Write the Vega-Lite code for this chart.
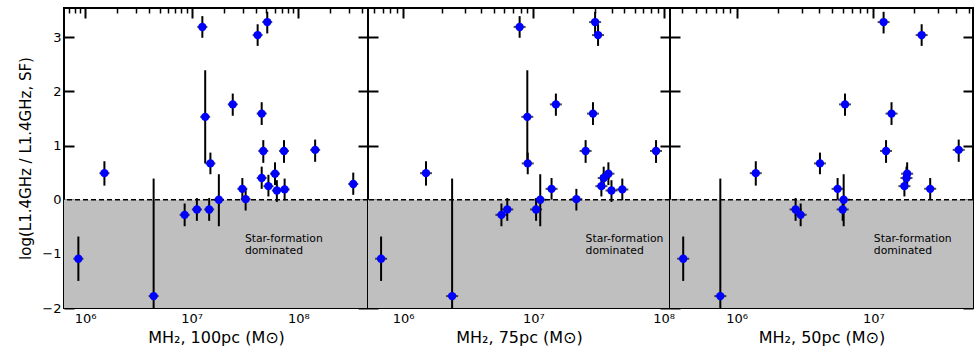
{
  "$schema": "https://vega.github.io/schema/vega-lite/v6.json",
  "padding": {"left": 17, "top": 6, "right": 0, "bottom": 0},
  "background": "white",
  "config": {
    "font": "DejaVu Sans",
    "view": {"stroke": "black", "strokeWidth": 2},
    "axis": {"grid": false, "domain": false, "labelFont": "DejaVu Sans", "titleFont": "DejaVu Sans", "labelColor": "black", "titleColor": "black", "tickColor": "black", "labelFontSize": 13, "titleFontWeight": "normal", "zindex": 1, "labelFlush": false}
  },
  "datasets": {
    "p1": [
      {"m": 866000, "r": -1.09, "lo": -1.50, "hi": -0.68},
      {"m": 1520000, "r": 0.49, "lo": 0.26, "hi": 0.71},
      {"m": 4400000, "r": -1.78, "lo": -4.0, "hi": 0.39},
      {"m": 8600000, "r": -0.28, "lo": -0.49, "hi": -0.07},
      {"m": 11200000, "r": -0.18, "lo": -0.39, "hi": 0.03},
      {"m": 14600000, "r": -0.18, "lo": -0.39, "hi": 0.03},
      {"m": 12600000, "r": 3.19, "lo": 2.99, "hi": 3.39},
      {"m": 13400000, "r": 1.53, "lo": 0.67, "hi": 2.39},
      {"m": 15000000, "r": 0.67, "lo": 0.47, "hi": 0.87},
      {"m": 18000000, "r": 0.0, "lo": -0.49, "hi": 0.47},
      {"m": 24300000, "r": 1.76, "lo": 1.55, "hi": 1.96},
      {"m": 41600000, "r": 3.04, "lo": 2.84, "hi": 3.24},
      {"m": 51200000, "r": 3.28, "lo": 3.07, "hi": 3.47},
      {"m": 45400000, "r": 1.59, "lo": 1.38, "hi": 1.80},
      {"m": 47000000, "r": 0.90, "lo": 0.68, "hi": 1.10},
      {"m": 73500000, "r": 0.90, "lo": 0.68, "hi": 1.10},
      {"m": 144000000, "r": 0.92, "lo": 0.70, "hi": 1.11},
      {"m": 45400000, "r": 0.40, "lo": 0.20, "hi": 0.61},
      {"m": 60500000, "r": 0.48, "lo": 0.27, "hi": 0.69},
      {"m": 52500000, "r": 0.25, "lo": 0.06, "hi": 0.46},
      {"m": 63000000, "r": 0.17, "lo": -0.04, "hi": 0.36},
      {"m": 74500000, "r": 0.19, "lo": -0.01, "hi": 0.39},
      {"m": 29900000, "r": 0.20, "lo": 0.0, "hi": 0.40},
      {"m": 32100000, "r": 0.01, "lo": -0.20, "hi": 0.20},
      {"m": 328000000, "r": 0.29, "lo": 0.09, "hi": 0.50}
    ],
    "p2": [
      {"m": 678000, "r": -1.09, "lo": -1.50, "hi": -0.68},
      {"m": 1500000, "r": 0.49, "lo": 0.26, "hi": 0.71},
      {"m": 2380000, "r": -1.78, "lo": -4.0, "hi": 0.39},
      {"m": 5690000, "r": -0.28, "lo": -0.49, "hi": -0.07},
      {"m": 6310000, "r": -0.18, "lo": -0.39, "hi": 0.03},
      {"m": 7850000, "r": 3.19, "lo": 2.99, "hi": 3.39},
      {"m": 8990000, "r": 1.53, "lo": 0.67, "hi": 2.39},
      {"m": 9060000, "r": 0.67, "lo": 0.47, "hi": 0.87},
      {"m": 10500000, "r": -0.18, "lo": -0.39, "hi": 0.03},
      {"m": 11300000, "r": 0.0, "lo": -0.49, "hi": 0.47},
      {"m": 13800000, "r": 0.20, "lo": 0.0, "hi": 0.40},
      {"m": 14900000, "r": 1.76, "lo": 1.55, "hi": 1.96},
      {"m": 21400000, "r": 0.01, "lo": -0.20, "hi": 0.20},
      {"m": 25200000, "r": 0.90, "lo": 0.68, "hi": 1.10},
      {"m": 28700000, "r": 1.59, "lo": 1.38, "hi": 1.80},
      {"m": 29800000, "r": 3.28, "lo": 3.07, "hi": 3.47},
      {"m": 31400000, "r": 3.04, "lo": 2.84, "hi": 3.24},
      {"m": 33300000, "r": 0.25, "lo": 0.06, "hi": 0.46},
      {"m": 34700000, "r": 0.40, "lo": 0.20, "hi": 0.61},
      {"m": 37700000, "r": 0.48, "lo": 0.27, "hi": 0.69},
      {"m": 39800000, "r": 0.17, "lo": -0.04, "hi": 0.36},
      {"m": 48200000, "r": 0.19, "lo": -0.01, "hi": 0.39},
      {"m": 87500000, "r": 0.90, "lo": 0.68, "hi": 1.10}
    ],
    "p3": [
      {"m": 406000, "r": -1.09, "lo": -1.50, "hi": -0.68},
      {"m": 759000, "r": -1.78, "lo": -4.0, "hi": 0.39},
      {"m": 1380000, "r": 0.49, "lo": 0.26, "hi": 0.71},
      {"m": 2700000, "r": -0.18, "lo": -0.39, "hi": 0.03},
      {"m": 2940000, "r": -0.28, "lo": -0.49, "hi": -0.07},
      {"m": 4070000, "r": 0.67, "lo": 0.47, "hi": 0.87},
      {"m": 5480000, "r": 0.20, "lo": 0.0, "hi": 0.40},
      {"m": 6070000, "r": 0.0, "lo": -0.49, "hi": 0.47},
      {"m": 5970000, "r": -0.18, "lo": -0.39, "hi": 0.03},
      {"m": 6210000, "r": 1.76, "lo": 1.55, "hi": 1.96},
      {"m": 11900000, "r": 3.28, "lo": 3.07, "hi": 3.47},
      {"m": 12400000, "r": 0.90, "lo": 0.68, "hi": 1.10},
      {"m": 13600000, "r": 1.59, "lo": 1.38, "hi": 1.80},
      {"m": 16900000, "r": 0.25, "lo": 0.06, "hi": 0.46},
      {"m": 17500000, "r": 0.40, "lo": 0.20, "hi": 0.61},
      {"m": 17700000, "r": 0.48, "lo": 0.27, "hi": 0.69},
      {"m": 22600000, "r": 3.04, "lo": 2.84, "hi": 3.24},
      {"m": 26100000, "r": 0.20, "lo": 0.0, "hi": 0.40},
      {"m": 42200000, "r": 0.92, "lo": 0.70, "hi": 1.11}
    ]
  },
  "hconcat": [
    {
      "width": 304, "height": 300,
      "resolve": {"axis": {"x": "independent", "y": "independent"}},
      "layer": [
        {"data": {"values": [{}]}, "mark": {"type": "rect", "color": "#bfbfbf"},
         "encoding": {"y": {"datum": -2, "type": "quantitative", "axis": null}, "y2": {"datum": 0}}},
        {"data": {"values": [{}]}, "mark": {"type": "rule", "color": "black", "strokeWidth": 1.5, "strokeDash": [5, 3]},
         "encoding": {"y": {"datum": 0, "type": "quantitative", "axis": null}}},
        {"data": {"name": "p1"}, "mark": {"type": "rule", "color": "black", "strokeWidth": 2, "clip": true},
         "encoding": {
           "x": {"field": "m", "type": "quantitative", "axis": {"orient": "top", "labels": false, "title": null, "values": [1000000, 10000000, 100000000], "tickSize": -10, "tickWidth": 2}},
           "y": {"field": "lo", "type": "quantitative", "axis": {"orient": "right", "labels": false, "title": null, "values": [-2, -1, 0, 1, 2, 3], "tickSize": -10, "tickWidth": 2}},
           "y2": {"field": "hi"}}},
        {"data": {"name": "p1"}, "mark": {"type": "tick", "orient": "horizontal", "color": "black", "size": 10, "thickness": 2},
         "encoding": {"x": {"field": "m", "type": "quantitative", "axis": {"orient": "top", "labels": false, "title": null, "values": [700000, 800000, 900000, 2000000, 3000000, 4000000, 5000000, 6000000, 7000000, 8000000, 9000000, 20000000, 30000000, 40000000, 50000000, 60000000, 70000000, 80000000, 90000000, 200000000, 300000000, 400000000], "tickSize": -5, "tickWidth": 1.5}},
           "y": {"field": "r", "type": "quantitative", "axis": null}}},
        {"data": {"name": "p1"}, "mark": {"type": "point", "shape": "circle", "filled": true, "color": "#0000ff", "opacity": 1, "size": 70},
         "encoding": {
           "x": {"field": "m", "type": "quantitative", "scale": {"type": "log", "domain": [635000, 451000000], "nice": false},
             "axis": {"orient": "bottom", "title": "MH₂, 100pc (M⊙)", "titleFontSize": 16, "labelPadding": 14, "titlePadding": 4, "values": [1000000, 10000000, 100000000],
               "labelExpr": "datum.value == 1000000 ? '10⁶' : datum.value == 10000000 ? '10⁷' : '10⁸'", "tickSize": -10, "tickWidth": 2}},
           "y": {"field": "r", "type": "quantitative", "scale": {"domain": [-2, 3.54], "nice": false, "zero": false},
             "axis": {"orient": "left", "title": "log(L1.4GHz / L1.4GHz, SF)", "titleFontSize": 15, "values": [-2, -1, 0, 1, 2, 3], "tickSize": -10, "tickWidth": 2, "labelPadding": 13, "titlePadding": 8}}}},
        {"data": {"values": [{}]}, "mark": {"type": "text", "text": ["Star-formation", "dominated"], "align": "left", "baseline": "top", "fontSize": 10.8, "lineHeight": 12, "color": "black"},
         "encoding": {"x": {"datum": 31600000, "type": "quantitative", "axis": {"orient": "bottom", "labels": false, "title": null, "values": [700000, 800000, 900000, 2000000, 3000000, 4000000, 5000000, 6000000, 7000000, 8000000, 9000000, 20000000, 30000000, 40000000, 50000000, 60000000, 70000000, 80000000, 90000000, 200000000, 300000000, 400000000], "tickSize": -5, "tickWidth": 1.5}},
           "y": {"datum": -0.62, "type": "quantitative", "axis": null}}}
      ]
    },
    {
      "width": 302, "height": 300,
      "resolve": {"axis": {"x": "independent", "y": "independent"}},
      "layer": [
        {"data": {"values": [{}]}, "mark": {"type": "rect", "color": "#bfbfbf"},
         "encoding": {"y": {"datum": -2, "type": "quantitative", "axis": null}, "y2": {"datum": 0}}},
        {"data": {"values": [{}]}, "mark": {"type": "rule", "color": "black", "strokeWidth": 1.5, "strokeDash": [5, 3]},
         "encoding": {"y": {"datum": 0, "type": "quantitative", "axis": null}}},
        {"data": {"name": "p2"}, "mark": {"type": "rule", "color": "black", "strokeWidth": 2, "clip": true},
         "encoding": {
           "x": {"field": "m", "type": "quantitative", "axis": {"orient": "top", "labels": false, "title": null, "values": [1000000, 10000000, 100000000], "tickSize": -10, "tickWidth": 2}},
           "y": {"field": "lo", "type": "quantitative", "axis": {"orient": "right", "labels": false, "title": null, "values": [-2, -1, 0, 1, 2, 3], "tickSize": -10, "tickWidth": 2}},
           "y2": {"field": "hi"}}},
        {"data": {"name": "p2"}, "mark": {"type": "tick", "orient": "horizontal", "color": "black", "size": 12, "thickness": 2},
         "encoding": {"x": {"field": "m", "type": "quantitative", "axis": {"orient": "top", "labels": false, "title": null, "values": [600000, 700000, 800000, 900000, 2000000, 3000000, 4000000, 5000000, 6000000, 7000000, 8000000, 9000000, 20000000, 30000000, 40000000, 50000000, 60000000, 70000000, 80000000, 90000000], "tickSize": -5, "tickWidth": 1.5}},
           "y": {"field": "r", "type": "quantitative", "axis": null}}},
        {"data": {"name": "p2"}, "mark": {"type": "point", "shape": "circle", "filled": true, "color": "#0000ff", "opacity": 1, "size": 70},
         "encoding": {
           "x": {"field": "m", "type": "quantitative", "scale": {"type": "log", "domain": [538000, 112000000], "nice": false},
             "axis": {"orient": "bottom", "title": "MH₂, 75pc (M⊙)", "titleFontSize": 16, "labelPadding": 14, "titlePadding": 4, "values": [1000000, 10000000, 100000000],
               "labelExpr": "datum.value == 1000000 ? '10⁶' : datum.value == 10000000 ? '10⁷' : '10⁸'", "tickSize": -10, "tickWidth": 2}},
           "y": {"field": "r", "type": "quantitative", "scale": {"domain": [-2, 3.54], "nice": false, "zero": false},
             "axis": {"orient": "left", "labels": false, "title": null, "values": [-2, -1, 0, 1, 2, 3], "tickSize": -10, "tickWidth": 2}}}},
        {"data": {"values": [{}]}, "mark": {"type": "text", "text": ["Star-formation", "dominated"], "align": "left", "baseline": "top", "fontSize": 10.8, "lineHeight": 12, "color": "black"},
         "encoding": {"x": {"datum": 25200000, "type": "quantitative", "axis": {"orient": "bottom", "labels": false, "title": null, "values": [600000, 700000, 800000, 900000, 2000000, 3000000, 4000000, 5000000, 6000000, 7000000, 8000000, 9000000, 20000000, 30000000, 40000000, 50000000, 60000000, 70000000, 80000000, 90000000], "tickSize": -5, "tickWidth": 1.5}},
           "y": {"datum": -0.62, "type": "quantitative", "axis": null}}}
      ]
    },
    {
      "width": 303, "height": 300,
      "resolve": {"axis": {"x": "independent", "y": "independent"}},
      "layer": [
        {"data": {"values": [{}]}, "mark": {"type": "rect", "color": "#bfbfbf"},
         "encoding": {"y": {"datum": -2, "type": "quantitative", "axis": null}, "y2": {"datum": 0}}},
        {"data": {"values": [{}]}, "mark": {"type": "rule", "color": "black", "strokeWidth": 1.5, "strokeDash": [5, 3]},
         "encoding": {"y": {"datum": 0, "type": "quantitative", "axis": null}}},
        {"data": {"name": "p3"}, "mark": {"type": "rule", "color": "black", "strokeWidth": 2, "clip": true},
         "encoding": {
           "x": {"field": "m", "type": "quantitative", "axis": {"orient": "top", "labels": false, "title": null, "values": [1000000, 10000000], "tickSize": -10, "tickWidth": 2}},
           "y": {"field": "lo", "type": "quantitative", "axis": {"orient": "right", "labels": false, "title": null, "values": [-2, -1, 0, 1, 2, 3], "tickSize": -10, "tickWidth": 2}},
           "y2": {"field": "hi"}}},
        {"data": {"name": "p3"}, "mark": {"type": "tick", "orient": "horizontal", "color": "black", "size": 12, "thickness": 2},
         "encoding": {"x": {"field": "m", "type": "quantitative", "axis": {"orient": "top", "labels": false, "title": null, "values": [400000, 500000, 600000, 700000, 800000, 900000, 2000000, 3000000, 4000000, 5000000, 6000000, 7000000, 8000000, 9000000, 20000000, 30000000, 40000000, 50000000], "tickSize": -5, "tickWidth": 1.5}},
           "y": {"field": "r", "type": "quantitative", "axis": null}}},
        {"data": {"name": "p3"}, "mark": {"type": "point", "shape": "circle", "filled": true, "color": "#0000ff", "opacity": 1, "size": 70},
         "encoding": {
           "x": {"field": "m", "type": "quantitative", "scale": {"type": "log", "domain": [325000, 53700000], "nice": false},
             "axis": {"orient": "bottom", "title": "MH₂, 50pc (M⊙)", "titleFontSize": 16, "labelPadding": 14, "titlePadding": 4, "values": [1000000, 10000000],
               "labelExpr": "datum.value == 1000000 ? '10⁶' : '10⁷'", "tickSize": -10, "tickWidth": 2}},
           "y": {"field": "r", "type": "quantitative", "scale": {"domain": [-2, 3.54], "nice": false, "zero": false},
             "axis": {"orient": "left", "labels": false, "title": null, "values": [-2, -1, 0, 1, 2, 3], "tickSize": -10, "tickWidth": 2}}}},
        {"data": {"values": [{}]}, "mark": {"type": "text", "text": ["Star-formation", "dominated"], "align": "left", "baseline": "top", "fontSize": 10.8, "lineHeight": 12, "color": "black"},
         "encoding": {"x": {"datum": 10100000, "type": "quantitative", "axis": {"orient": "bottom", "labels": false, "title": null, "values": [400000, 500000, 600000, 700000, 800000, 900000, 2000000, 3000000, 4000000, 5000000, 6000000, 7000000, 8000000, 9000000, 20000000, 30000000, 40000000, 50000000], "tickSize": -5, "tickWidth": 1.5}},
           "y": {"datum": -0.62, "type": "quantitative", "axis": null}}}
      ]
    }
  ],
  "spacing": 0,
  "bounds": "flush"
}
